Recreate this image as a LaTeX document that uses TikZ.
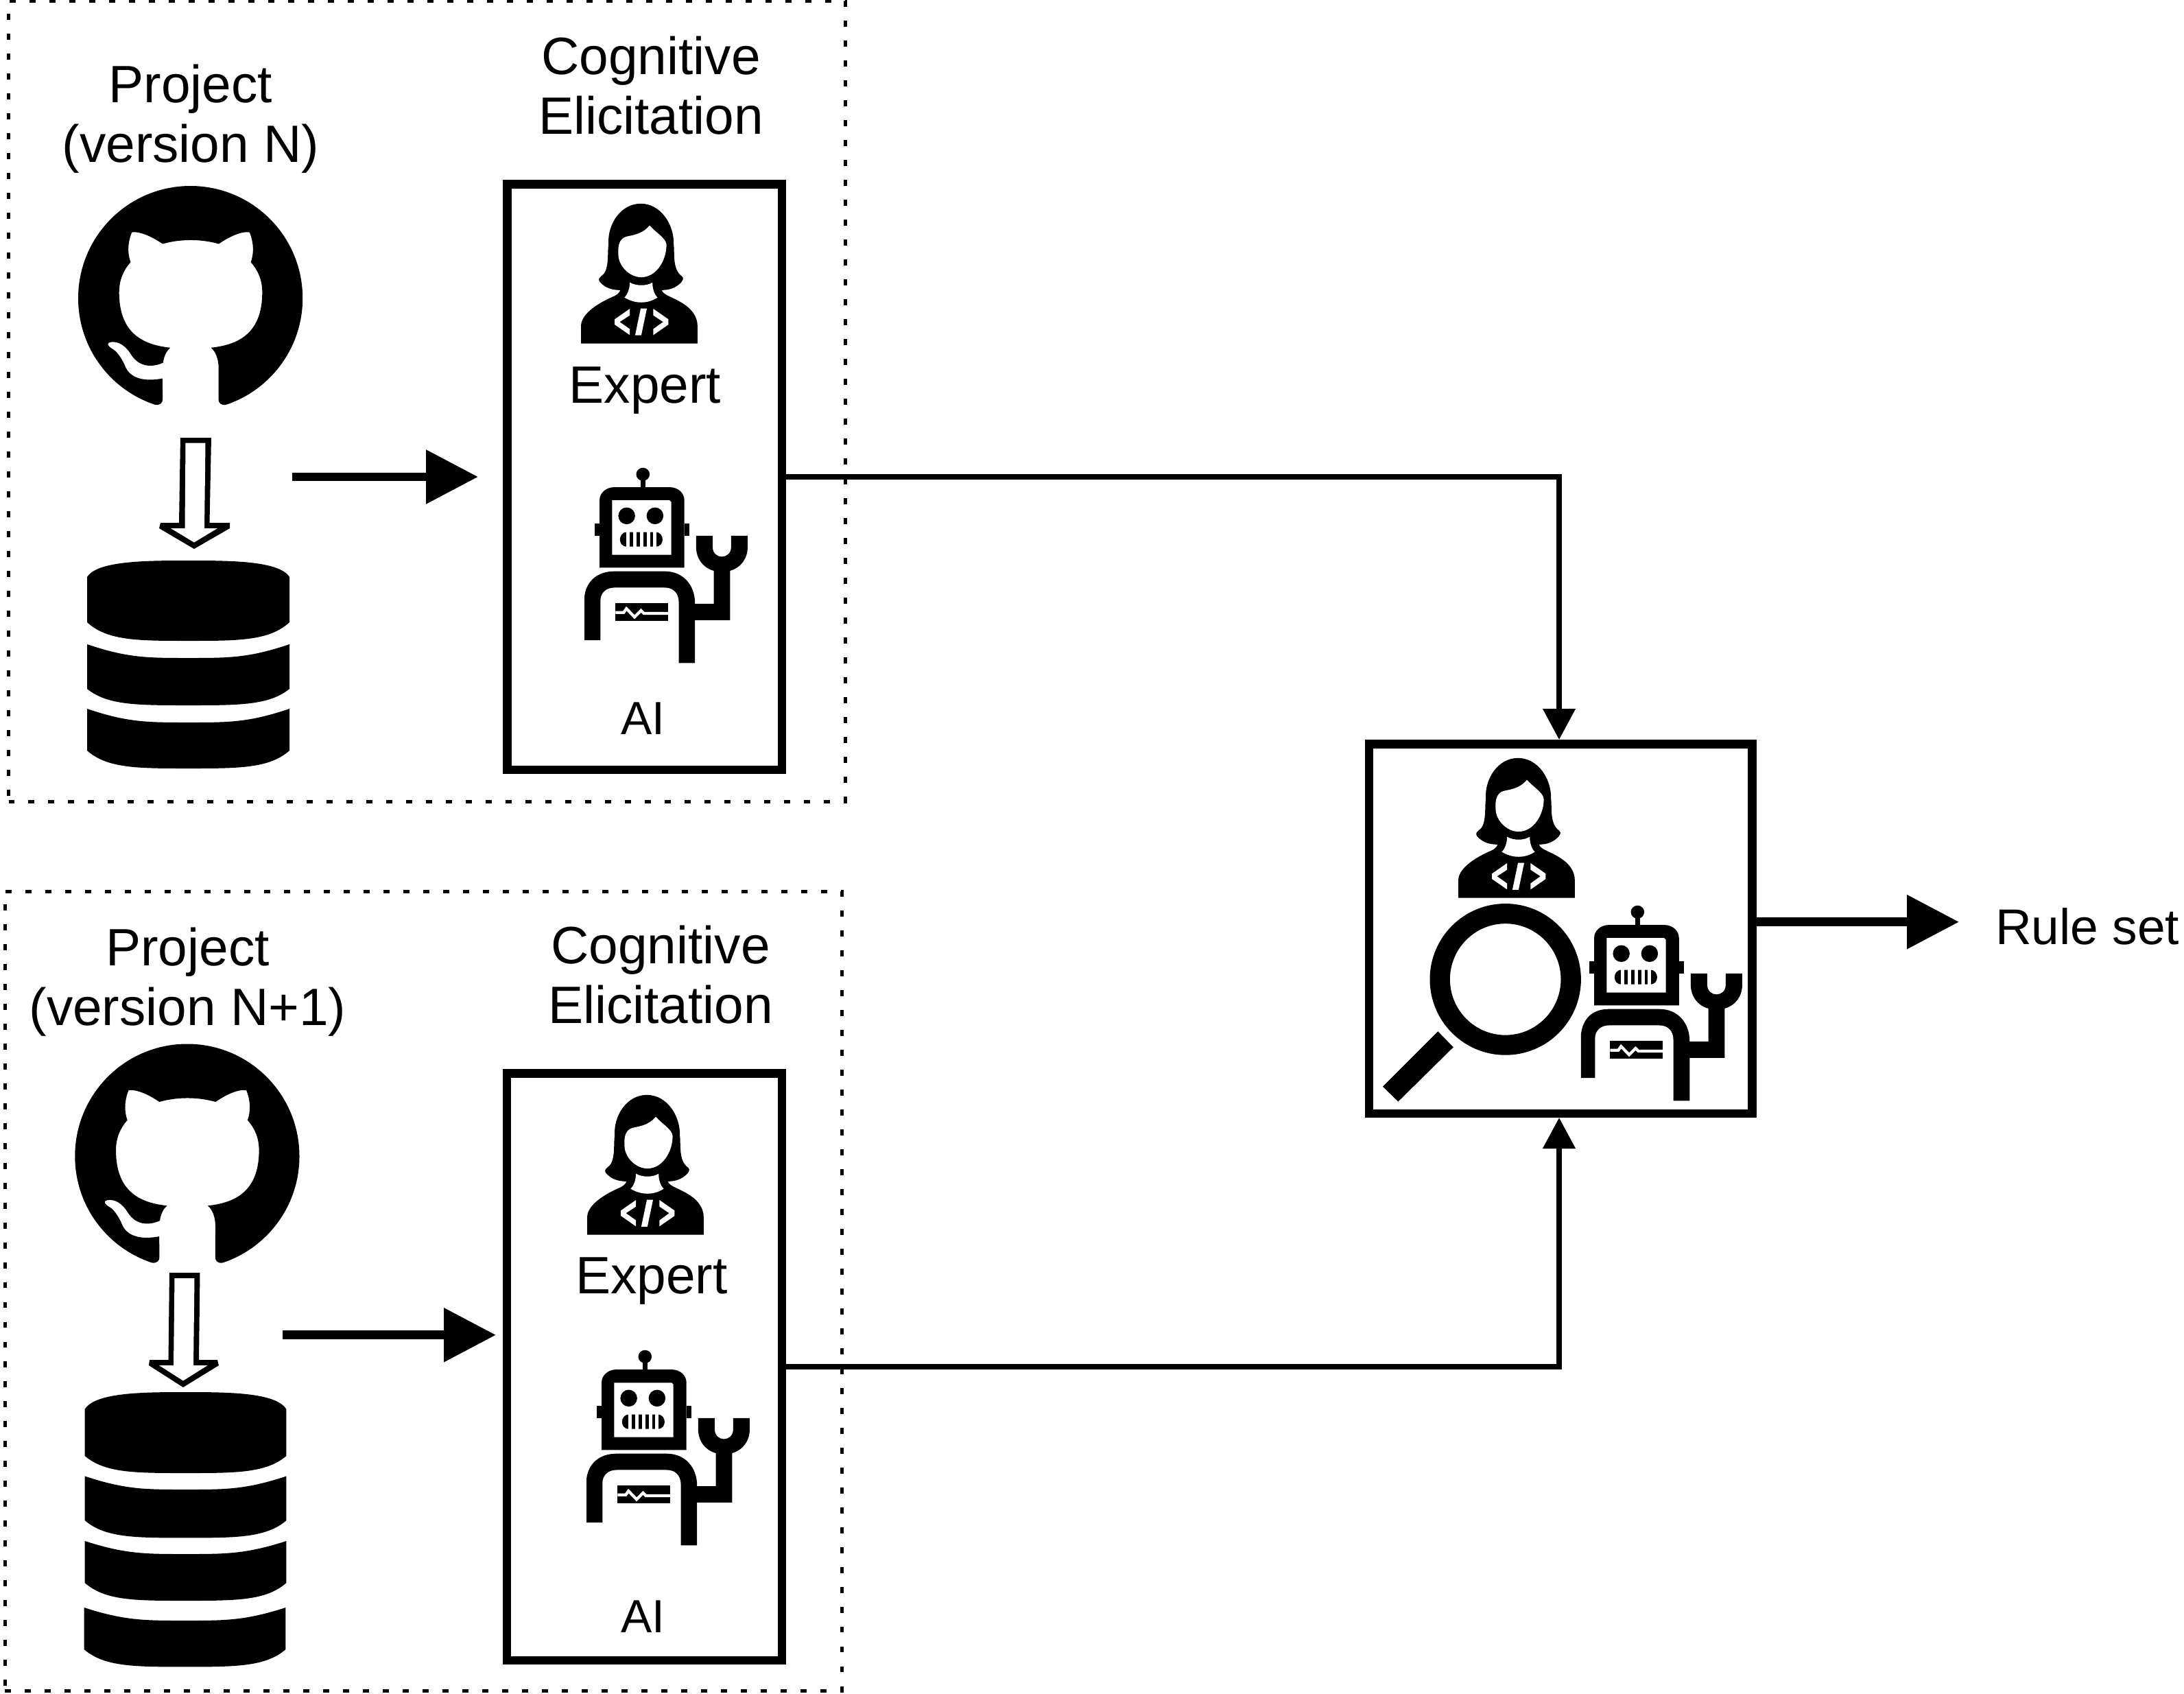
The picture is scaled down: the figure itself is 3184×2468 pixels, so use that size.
\documentclass[tikz,border=0pt]{standalone}
\usepackage{fontspec}
\setmainfont{Liberation Sans}
\usetikzlibrary{arrows.meta,svg.path}
\def\pxu{0.02cm}
\tikzset{
  label big/.style={inner sep=0pt,outer sep=0pt,align=center,anchor=base,font=\fontsize{43.6}{49}\selectfont},
  label small/.style={inner sep=0pt,outer sep=0pt,anchor=base,font=\fontsize{38.6}{44}\selectfont},
  label rule/.style={inner sep=0pt,outer sep=0pt,anchor=base west,font=\fontsize{41.6}{49}\selectfont},
  dotted frame/.style={draw,line width=5*\pxu,dash pattern=on 5.1pt off 11.4pt,outer sep=0pt,inner sep=0pt},
  heavy box/.style={draw,line width=12.5*\pxu,inner sep=0pt},
  thick arrow/.style={line width=12.7*\pxu,-{Triangle[length=43.25pt,width=43.25pt]}},
  thin arrow/.style={line width=7.5*\pxu,-{Triangle[length=25.6pt,width=26.2pt]}},
}
% github mark: #1,#2 upper left corner in pixels
\newcommand\ghIcon[2]{%
\begin{scope}[shift={(#1,#2)},xscale=11.64,yscale=-11.64]
\fill[black] svg {M 8 0 C 3.58 0 0 3.58 0 8 c 0 3.54 2.29 6.53 5.47 7.59 0.4 0.07 0.55 -0.17 0.55 -0.38 0 -0.19 -0.01 -0.82 -0.01 -1.49 -2.01 0.37 -2.53 -0.49 -2.69 -0.94 -0.09 -0.23 -0.48 -0.94 -0.82 -1.13 -0.28 -0.15 -0.68 -0.52 -0.01 -0.53 0.63 -0.01 1.08 0.58 1.23 0.82 0.72 1.21 1.87 0.87 2.33 0.66 0.07 -0.52 0.28 -0.87 0.51 -1.07 -1.78 -0.2 -3.64 -0.89 -3.64 -3.95 0 -0.87 0.31 -1.59 0.82 -2.15 -0.08 -0.2 -0.36 -1.02 0.08 -2.12 0 0 0.67 -0.21 2.2 0.82 0.64 -0.18 1.32 -0.27 2 -0.27 0.68 0 1.36 0.09 2 0.27 1.53 -1.04 2.2 -0.82 2.2 -0.82 0.44 1.1 0.16 1.92 0.08 2.12 0.51 0.56 0.82 1.27 0.82 2.15 0 3.07 -1.87 3.75 -3.65 3.95 0.29 0.25 0.54 0.73 0.54 1.48 0 1.07 -0.01 1.93 -0.01 2.2 0 0.21 0.15 0.46 0.55 0.38 C 13.71 14.53 16 11.54 16 8 c 0 -4.42 -3.58 -8 -8 -8 z};
\end{scope}}
% database layers: xl xr ytop ycorner ylow ybottom
\newcommand\dbPlate[7]{%
\pgfmathsetmacro\dbw{#2-#1}\pgfmathsetmacro\dbm{(#1+#2)/2}%
\fill[black] (#1,#4) .. controls ({#1+#7*\dbw},#3) and ({\dbm-.2*\dbw},#3) .. (\dbm,#3)
 .. controls ({\dbm+.2*\dbw},#3) and ({#2-#7*\dbw},#3) .. (#2,#4) -- (#2,#5)
 .. controls ({#2-.1*\dbw},#6) and ({\dbm+.25*\dbw},#6) .. (\dbm,#6)
 .. controls ({\dbm-.25*\dbw},#6) and ({#1+.1*\dbw},#6) .. (#1,#5) -- cycle;}
% expert, coordinates as measured on the large copy
\newcommand\expertIcon[2]{%
\begin{scope}[shift={(#1,#2)},x={0.02cm/2.45},y={-0.02cm/2.61}]
\fill[black] (620,143) .. controls (690,143) and (740,220) .. (738,300)
 .. controls (742,330) and (732,395) .. (768,420) .. controls (775,428) and (770,437) .. (765,442)
 .. controls (745,465) and (720,472) .. (695,472) .. controls (700,490) and (730,497) .. (760,516)
 .. controls (800,540) and (823,570) .. (823,610) -- (823,675) -- (407,675) -- (407,605)
 .. controls (410,560) and (470,520) .. (525,495) .. controls (535,490) and (545,482) .. (547,472)
 .. controls (520,472) and (495,465) .. (475,442) .. controls (468,432) and (470,428) .. (478,420)
 .. controls (510,400) and (500,330) .. (505,300) .. controls (500,220) and (550,143) .. (620,143) -- cycle;
\fill[white] (652,226) .. controls (630,255) and (600,262) .. (570,268)
 .. controls (545,275) and (538,300) .. (540,335) .. controls (540,380) and (580,423) .. (622,423)
 .. controls (675,423) and (712,360) .. (712,300) .. controls (712,275) and (670,250) .. (652,226) -- cycle;
\fill[white] (581,443) .. controls (605,457) and (640,457) .. (662,443)
 .. controls (662,465) and (668,488) .. (680,500) .. controls (645,525) and (600,525) .. (562,500)
 .. controls (574,488) and (581,465) .. (581,443) -- cycle;
\fill[white] (581,543) -- (527,583) -- (527,603) -- (581,643) -- (581,620) -- (545,593) -- (581,568) -- cycle;
\fill[white] (620,542) -- (642,542) -- (622,644) -- (600,644) -- cycle;
\fill[white] (665,543) -- (719,583) -- (719,603) -- (665,643) -- (665,620) -- (700,593) -- (665,568) -- cycle;
\end{scope}}
% robot: #3 is the x of the outer left edge of the body
\newcommand\robotIcon[3]{%
\begin{scope}[shift={(#1,#2)},x={0.02cm/2.45},y={-0.02cm/2.61}]
\fill[black] (1047,729) ellipse [x radius=24,y radius=25];
\fill[black] (1039,740) rectangle (1055,790);
\fill[black] (892,1084) -- (892,828) .. controls (892,800) and (915,778) .. (945,778) -- (1142,778)
 .. controls (1172,778) and (1195,800) .. (1195,828) -- (1195,1084) -- cycle;
\fill[black] (875,917) rectangle (892,963);
\fill[black] (1195,917) rectangle (1212,963);
\fill[white] (937,828) -- (1142,828) -- (1148,834) -- (1148,1035) -- (937,1035) -- cycle;
\fill[black] (989,887) ellipse [x radius=30,y radius=32];
\fill[black] (1090,887) ellipse [x radius=30,y radius=32];
\fill[black] (990,949) -- (1092,949) .. controls (1110,949) and (1117,965) .. (1117,977)
 .. controls (1117,990) and (1110,1004) .. (1092,1004) -- (990,1004)
 .. controls (972,1004) and (965,990) .. (965,977) .. controls (965,965) and (972,949) .. (990,949) -- cycle;
\foreach \sx in {988,1012,1036,1060,1084} {\fill[white] (\sx,945) rectangle ({\sx+12},1008);}
\fill[black] (#3,1360) -- (#3,1195) .. controls ({#3+6},1135) and (885,1098) .. (945,1098) -- (1125,1098)
 .. controls (1190,1098) and (1233,1150) .. (1233,1220) -- (1233,1222) -- (1300,1222) -- (1300,1096)
 .. controls (1262,1085) and (1237,1050) .. (1237,1005) -- (1237,963) -- (1296,963) -- (1296,1005)
 .. controls (1296,1055) and (1362,1055) .. (1362,1005) -- (1362,963) -- (1421,963) -- (1421,1005)
 .. controls (1421,1050) and (1396,1085) .. (1358,1096) -- (1358,1284) -- (1233,1284) -- (1233,1447)
 -- (1175,1447) -- (1175,1215) .. controls (1175,1180) and (1155,1160) .. (1125,1160) -- (945,1160)
 .. controls (915,1160) and (895,1180) .. (895,1210) -- (895,1360) -- cycle;
\fill[black] (949,1220) rectangle (1137,1286);
\draw[white,line width=2.4pt] (949,1255) -- (978,1255) -- (988,1240) -- (1017,1272) -- (1040,1247) -- (1050,1258) -- (1137,1258);
\end{scope}}

\begin{document}
\begin{tikzpicture}[x=0.02cm,y=-0.02cm]
\useasboundingbox (0,0) rectangle (3184,2468);
\fill[white] (0,0) rectangle (3184,2468);

% frames
\node[dotted frame,minimum width=1219.5*\pxu,minimum height=1166.3*\pxu] (frameA) at (622.25,584.85) {};
\node[dotted frame,minimum width=1220*\pxu,minimum height=1165*\pxu] (frameB) at (617,1881.5) {};

% boxes
\node[heavy box,minimum width=400.5*\pxu,minimum height=853.5*\pxu] (elicitA) at (939.5,695) {};
\node[heavy box,minimum width=401*\pxu,minimum height=855.5*\pxu] (elicitB) at (939.25,1992) {};
\node[heavy box,minimum width=558.2*\pxu,minimum height=538.5*\pxu] (review) at (2275.3,1353.5) {};

% labels
\node[label big] (projA) at (278,236) {Project\\(version N)};
\node[label big] (cogA) at (949,195) {Cognitive\\Elicitation};
\node[label big] (expA) at (940.5,587.5) {Expert};
\node[label small] (aiA) at (937.5,1070) {AI};
\node[label big] (projB) at (273.5,1494) {Project\\(version N+1)};
\node[label big] (cogB) at (963,1491) {Cognitive\\Elicitation};
\node[label big] (expB) at (950,1885.5) {Expert};
\node[label small] (aiB) at (937.5,2379) {AI};
\node[label rule] (rules) at (2909,1376.7) {Rule set};

% icons, upper group
\ghIcon{114}{271}
\fill[black] (263,638) -- (308,638) -- (305.5,762) -- (335,762) -- (335,770) -- (283,800) -- (232,770) -- (234,762) -- (261,762) -- cycle;
\fill[white] (270.5,645.5) -- (299.5,645.5) -- (298,770) -- (317,770) -- (283,790.6) -- (249,770) -- (269.5,770) -- cycle;
\dbPlate{127}{422}{817}{841}{907}{934}{.05}
\dbPlate{127}{422}{959}{939}{1004}{1028}{.2}
\dbPlate{127}{422}{1053}{1033}{1094}{1120}{.2}
\expertIcon{681}{242}
\robotIcon{510}{412}{838}

% icons, lower group
\ghIcon{109.3}{1521.5}
\fill[black] (247,1855) -- (291.5,1855) -- (290,1982) -- (317,1982) -- (319,1990) -- (267,2022) -- (217,1990) -- (218,1982) -- (245.5,1982) -- cycle;
\fill[white] (254.5,1863) -- (283.5,1863) -- (282,1990) -- (302.7,1990) -- (267,2012.4) -- (232,1990) -- (253,1990) -- cycle;
\dbPlate{123.7}{417.4}{2029}{2054}{2122}{2147}{.05}
\dbPlate{123.7}{417.4}{2171}{2151.5}{2216}{2241.4}{.2}
\dbPlate{123.7}{417.4}{2265}{2246}{2307}{2333}{.2}
\dbPlate{122.7}{416.4}{2362}{2343}{2404}{2429.4}{.2}
\expertIcon{690}{1541}
\robotIcon{513}{1698}{838}

% review box content
\expertIcon{1960}{1050}
\robotIcon{1960}{1050}{845}
\begin{scope}[shift={(1960,1050)},x={0.02cm/2.45},y={-0.02cm/2.61}]
\fill[black,even odd rule] (575,985) ellipse [x radius=270,y radius=288] (575,985) ellipse [x radius=198,y radius=212];
\fill[black] (334,1183) -- (389,1243) -- (192,1450) -- (137,1393) -- cycle;
\end{scope}

% connectors
\coordinate (srcA) at (426,695);
\coordinate (srcB) at (411.6,1945.7);
\coordinate (outEnd) at (2856,1343.7);
\draw[thick arrow,shorten >=36*\pxu] (srcA) -- (elicitA.west);
\draw[thick arrow,shorten >=9.5*\pxu] (srcB) -- (srcB -| elicitB.west);
\draw[thin arrow] (elicitA.east) -| ([xshift=-2.3*\pxu]review.north);
\draw[thin arrow] (elicitB.east) -| ([xshift=-2.3*\pxu]review.south);
\draw[thick arrow] (review.east |- outEnd) -- (outEnd);
\end{tikzpicture}
\end{document}
